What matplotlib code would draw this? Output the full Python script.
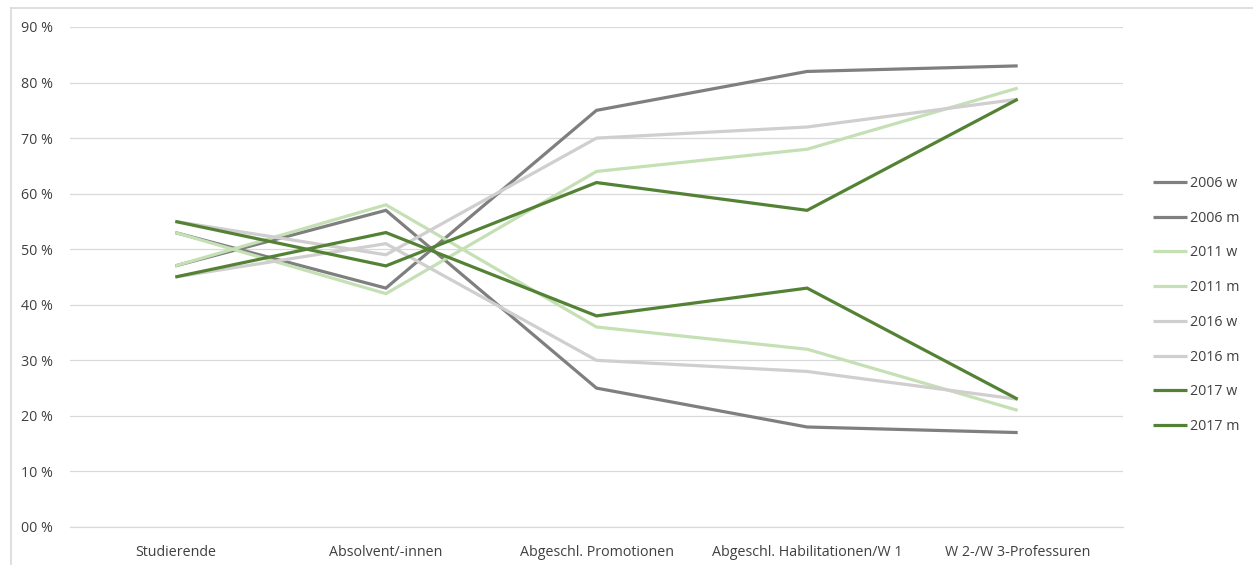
import matplotlib
matplotlib.use("Agg")
import matplotlib.pyplot as plt
from matplotlib.lines import Line2D
from matplotlib.ticker import FuncFormatter

categories = ["Studierende", "Absolvent/-innen", "Abgeschl. Promotionen",
              "Abgeschl. Habilitationen/W 1", "W 2-/W 3-Professuren"]

series_names = ["2006 w", "2006 m", "2011 w", "2011 m",
                "2016 w", "2016 m", "2017 w", "2017 m"]

v2006_w = [47, 57, 25, 18, 17]
v2006_m = [53, 43, 75, 82, 83]
v2011_w = [47, 58, 36, 32, 21]
v2011_m = [53, 42, 64, 68, 79]
v2016_w = [45, 51, 30, 28, 23]
v2016_m = [55, 49, 70, 72, 77]
v2017_w = [45, 53, 38, 43, 23]
v2017_m = [55, 47, 62, 57, 77]

y_ticks = [0, 10, 20, 30, 40, 50, 60, 70, 80, 90]

series_values = [v2006_w, v2006_m, v2011_w, v2011_m,
                 v2016_w, v2016_m, v2017_w, v2017_m]
colors = ["#7F7F7F", "#7F7F7F", "#C5E0B4", "#C5E0B4",
          "#D0CECE", "#D0CECE", "#548235", "#548235"]

plt.rcParams["font.family"] = ["Open Sans", "DejaVu Sans"]

W, H = 1253, 565
fig = plt.figure(figsize=(W / 100, H / 100), dpi=100)
ax = fig.add_axes([70 / W, 1 - 527 / H, (1123 - 70) / W, (527 - 27) / H])

x = list(range(len(categories)))
for name, vals, c in zip(series_names, series_values, colors):
    ax.plot(x, vals, color=c, lw=2.3, label=name, solid_capstyle="butt",
            solid_joinstyle="miter")

ax.set_xlim(-0.5, len(categories) - 0.5)
ax.set_ylim(0, 90)
ax.set_yticks(y_ticks)
ax.yaxis.set_major_formatter(FuncFormatter(lambda v, p: f"{int(v):02d} %"))
ax.set_xticks(x)
ax.set_xticklabels(categories)
ax.tick_params(axis="both", length=0, labelsize=10.3, colors="#404040")
ax.tick_params(axis="y", pad=12)
ax.tick_params(axis="x", pad=13)

ax.grid(axis="y", color="#D9D9D9", lw=0.9)
ax.set_axisbelow(True)
for s in ax.spines.values():
    s.set_visible(False)
ax.axhline(0, color="#D9D9D9", lw=0.9, zorder=0.5, clip_on=False)

ax.legend(loc="upper left", bbox_to_anchor=(1140 / W, 1 - 163 / H),
          bbox_transform=fig.transFigure, frameon=False,
          fontsize=10.3, handlelength=2.4, handletextpad=0.2,
          labelspacing=1.38, labelcolor="#404040")

# outer frame edges
fig.add_artist(Line2D([10.5 / W, 1], [1 - 7.5 / H, 1 - 7.5 / H],
                      transform=fig.transFigure, color="#D9D9D9", lw=1.2))
fig.add_artist(Line2D([10.5 / W, 10.5 / W], [0, 1 - 7.5 / H],
                      transform=fig.transFigure, color="#D9D9D9", lw=1.2))

fig.savefig("out.png", dpi=100)
